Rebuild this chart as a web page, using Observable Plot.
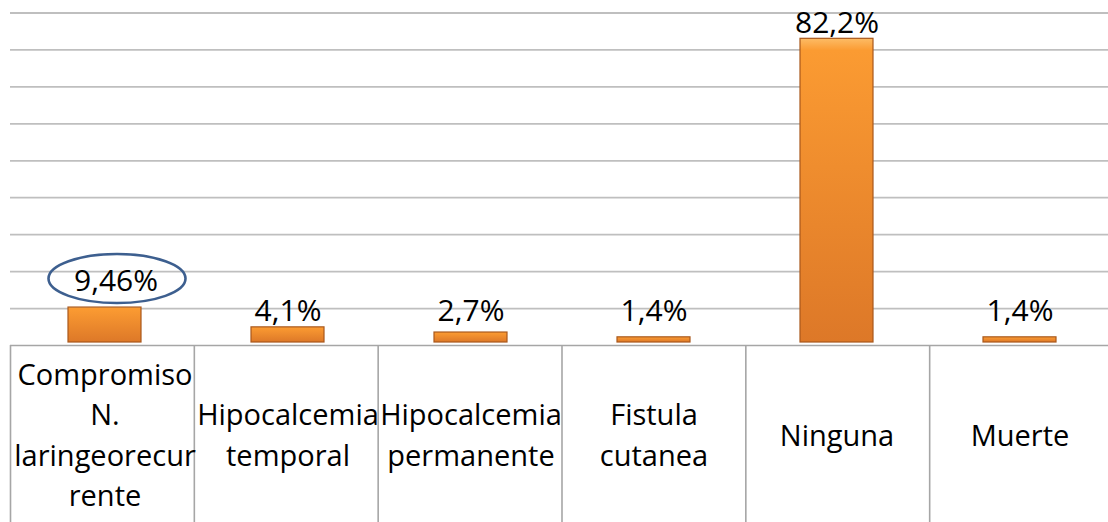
<!DOCTYPE html>
<html>
<head>
<meta charset="utf-8">
<script src="https://cdn.jsdelivr.net/npm/d3@7"></script>
<script src="https://cdn.jsdelivr.net/npm/@observablehq/plot@0.6"></script>
<style>
  html, body { margin: 0; padding: 0; background: #fff; }
  #chart svg { display: block; }
</style>
</head>
<body>
<div id="chart"></div>
<script>
// ---- data ----
const categories = [
  "Compromiso N. laringeorecurrente",
  "Hipocalcemia temporal",
  "Hipocalcemia permanente",
  "Fistula cutanea",
  "Ninguna",
  "Muerte"
];
const tickLabels = [
  "Compromiso\nN.\nlaringeorecur\nrente",
  "Hipocalcemia\ntemporal",
  "Hipocalcemia\npermanente",
  "Fistula\ncutanea",
  "Ninguna",
  "Muerte"
];
const values = [9.46, 4.1, 2.7, 1.4, 82.2, 1.4];
const valueLabels = ["9,46%", "4,1%", "2,7%", "1,4%", "82,2%", "1,4%"];
const gridValues = [0, 10, 20, 30, 40, 50, 60, 70, 80, 90];
const highlighted = "Compromiso N. laringeorecurrente";

const data = categories.map((c, i) => ({cat: c, tick: tickLabels[i], value: values[i], label: valueLabels[i]}));

// ---- layout ----
const W = 1108, H = 522;
const xRange = [10, 1113];
const step = (xRange[1] - xRange[0]) / categories.length;
const axisY = 345;
const labelMin = 4.1; // labels of very short bars sit no lower than this level
const font = "'Open Sans', 'Noto Sans', sans-serif";

// ellipse symbol (custom d3-style symbol)
const ellipse = (rx, ry) => ({
  draw(ctx) {
    const k = 0.5523;
    ctx.moveTo(rx, 0);
    ctx.bezierCurveTo(rx, ry * k, rx * k, ry, 0, ry);
    ctx.bezierCurveTo(-rx * k, ry, -rx, ry * k, -rx, 0);
    ctx.bezierCurveTo(-rx, -ry * k, -rx * k, -ry, 0, -ry);
    ctx.bezierCurveTo(rx * k, -ry, rx, -ry * k, rx, 0);
    ctx.closePath();
  }
});

const defs = () => {
  const d = d3.create("svg:defs");
  const g = d.append("linearGradient").attr("id", "barGrad")
    .attr("x1", 0).attr("y1", 0).attr("x2", 0).attr("y2", 1);
  g.append("stop").attr("offset", "0%").attr("stop-color", "#fdbc66");
  g.append("stop").attr("offset", "4%").attr("stop-color", "#fb9b32");
  g.append("stop").attr("offset", "100%").attr("stop-color", "#dd7828");
  return d.node();
};

const chart = Plot.plot({
  width: W,
  height: H,
  marginTop: 0,
  marginLeft: xRange[0],
  marginRight: W - xRange[1],
  marginBottom: H - axisY,
  style: {fontFamily: font, background: "#fff", overflow: "hidden"},
  x: {domain: categories, range: xRange, padding: 0, axis: null},
  y: {domain: [0, 90], range: [axisY, 12.5], axis: null},
  marks: [
    defs,
    Plot.ruleY(gridValues.filter(v => v > 0), {stroke: "#bfbfbf", strokeWidth: 1.8}),
    Plot.ruleY([0], {stroke: "#a6a6a6", strokeWidth: 1.6}),
    // category separators, below the axis (at the left edge of each band)
    Plot.ruleX(categories, {
      x: d => d,
      render: (index, scales, values, dims) => {
        const g = d3.create("svg:g");
        const top = dims.height - dims.marginBottom;
        categories.forEach((c, i) => {
          const x = xRange[0] + i * step + 0.5;
          g.append("line").attr("x1", x).attr("x2", x).attr("y1", top).attr("y2", dims.height)
            .attr("stroke", "#a6a6a6").attr("stroke-width", 1.6);
        });
        return g.node();
      }
    }),
    Plot.barY(data, {
      x: "cat", y: "value",
      fill: "url(#barGrad)", stroke: "#a9581c", strokeWidth: 1.2,
      insetLeft: 55, insetRight: 55, dy: -3
    }),
    Plot.text(data.filter(d => d.cat !== highlighted), {
      x: "cat", y: d => Math.max(d.value, labelMin), text: "label",
      lineAnchor: "bottom", dy: -9, fontSize: 30, fill: "#000"
    }),
    Plot.text(data.filter(d => d.cat === highlighted), {
      x: "cat", y: "value", text: "label",
      lineAnchor: "bottom", dy: -20, dx: 11, fontSize: 30, fill: "#000"
    }),
    Plot.dot(data.filter(d => d.cat === highlighted), {
      x: "cat", y: "value", r: 10, symbol: ellipse(68.5, 24.5),
      dx: 12, dy: -32, stroke: "#3d5f8f", strokeWidth: 2.6, fill: "none"
    }),
    Plot.text(data, {
      x: "cat", text: "tick", frameAnchor: "bottom", dy: 87,
      lineAnchor: "middle", fontSize: 29, lineHeight: 1.4, fill: "#000"
    })
  ]
});

document.getElementById("chart").appendChild(chart);
</script>
</body>
</html>
